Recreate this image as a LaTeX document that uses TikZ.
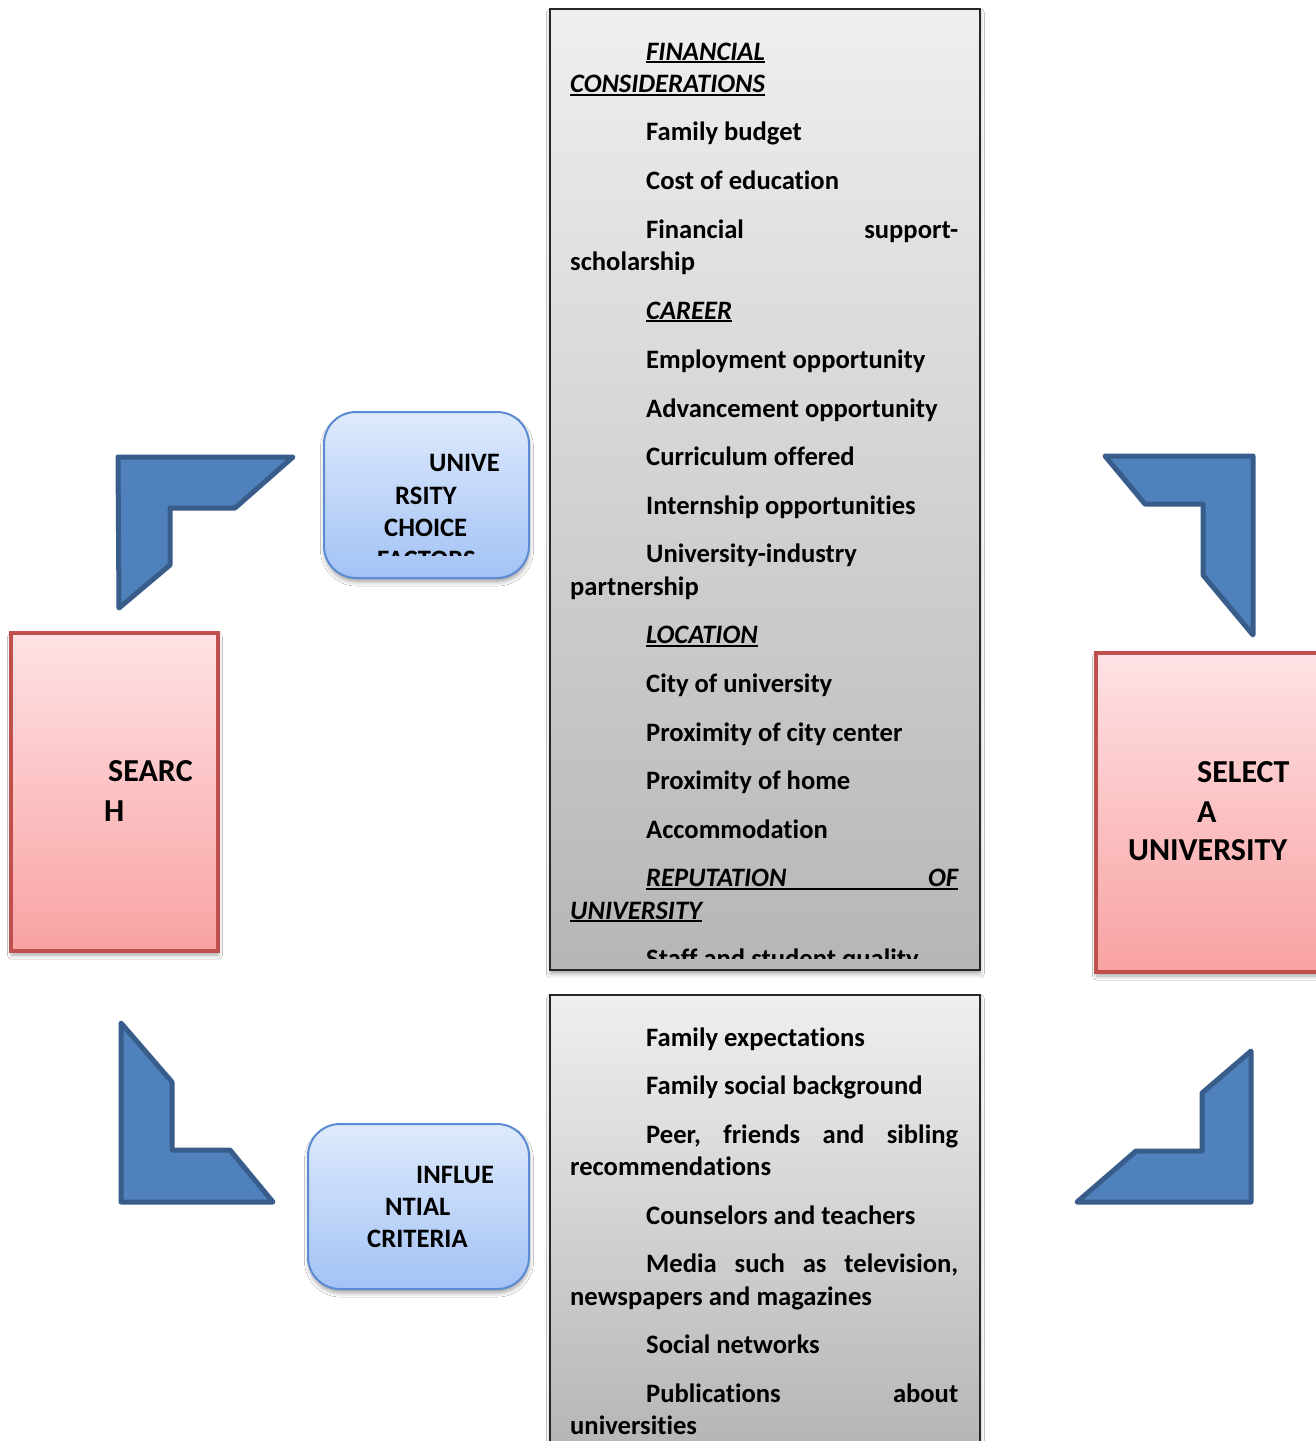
\documentclass[tikz,border=0pt]{standalone}
\usepackage{fontspec}
\setmainfont{Carlito}[Ligatures={NoCommon}]
\usetikzlibrary{shadows.blur}
\definecolor{lblue}{HTML}{4F81BD}
\definecolor{dblue}{HTML}{385D8A}
\definecolor{redb}{HTML}{C0504D}
\definecolor{redtop}{HTML}{FEE2E5}
\definecolor{redbot}{HTML}{F9A2A2}
\definecolor{bluetop}{HTML}{DEEAFC}
\definecolor{bluebot}{HTML}{A3C2F5}
\definecolor{blueb}{HTML}{5B8BD3}
\definecolor{graytop}{HTML}{EFEFEF}
\definecolor{graybot}{HTML}{B6B6B6}
\newcommand\myul[1]{\setbox0\hbox{#1}\hbox{\rlap{\rule[-3.4pt]{\wd0}{2pt}}\box0}}
\newcommand\jline[1]{\hbox to 312pt{#1}}
\tikzset{
 txt/.style={inner sep=0pt, anchor=base west, font=\bfseries\fontsize{26.6}{32}\selectfont},
 hd/.style={inner sep=0pt, anchor=base west, font=\bfseries\itshape\fontsize{26.6}{32}\selectfont},
 big/.style={inner sep=0pt, anchor=base west, font=\bfseries\fontsize{32}{40}\selectfont},
 larrow/.style={fill=lblue, draw=dblue, line width=5pt, line join=round},
 boxshadow/.style={blur shadow={shadow xshift=0.5pt, shadow yshift=-4pt, shadow blur radius=4pt, shadow opacity=35}},
 graybox/.style={draw=black!85, line width=1.6pt, top color=graytop, bottom color=graybot, anchor=north west, inner sep=0pt, boxshadow},
 redbox/.style={draw=redb, line width=4pt, top color=redtop, bottom color=redbot, anchor=north west, inner sep=0pt, boxshadow},
 bluebox/.style={draw=blueb, line width=2pt, top color=bluetop, bottom color=bluebot, anchor=north west, inner sep=0pt, rounded corners=32pt, boxshadow},
}
\begin{document}
\begin{tikzpicture}[x=1pt,y=-1pt]
\useasboundingbox (0,0) rectangle (1316,1441);
\clip (0,0) rectangle (1316,1441);
\fill[white] (0,0) rectangle (1316,1441);

% blue L-shaped arrows
\draw[larrow] (118,457) -- (293,457) -- (235,508) -- (170,508) -- (170,565) -- (119,608) -- cycle;
\draw[larrow] (1105,456) -- (1253,456) -- (1253,635) -- (1203,575) -- (1203,504) -- (1145,504) -- cycle;
\draw[larrow] (121,1023) -- (172,1082) -- (172,1150) -- (230,1150) -- (273,1202) -- (121,1202) -- cycle;
\draw[larrow] (1251,1051) -- (1251,1202) -- (1077,1202) -- (1136,1151) -- (1202,1151) -- (1202,1093) -- cycle;

% boxes
\node[graybox, minimum width=430pt, minimum height=961pt] (fbox) at (549,8) {};
\node[graybox, minimum width=430pt, minimum height=520pt, bottom color=graybot!95!black] (ibox) at (549,994) {};
\node[redbox, minimum width=207pt, minimum height=318pt] (search) at (9,631) {};
\node[redbox, minimum width=240pt, minimum height=319pt] (select) at (1094,651) {};
\node[bluebox, minimum width=205pt, minimum height=166pt] (ucf) at (323,411) {};
\node[bluebox, minimum width=221pt, minimum height=165pt] (inf) at (307,1123) {};

% big labels
\node[big] (s1) at (108,781) {SEARC};
\node[big] (s2) at (104,821) {H};
\node[big] (u1) at (1197,782) {SELECT};
\node[big] (u2) at (1197,822) {A};
\node[big] (u3) at (1128,860) {UNIVERSITY};

% university choice factors
\begin{scope}
\clip (325,413) rectangle (526,555);
\node[txt] (c1) at (429,471) {UNIVE};
\node[txt] (c2) at (395,504) {RSITY};
\node[txt] (c3) at (384,536) {CHOICE};
\node[txt] (c4) at (377,568) {FACTORS};
\end{scope}

% influential criteria
\node[txt] (n1) at (416,1183) {INFLUE};
\node[txt] (n2) at (385,1215) {NTIAL};
\node[txt] (n3) at (367,1247) {CRITERIA};

% factors list
\begin{scope}
\clip (552,11) rectangle (976,958.5);
\node[hd] (f1) at (646,60) {\myul{FINANCIAL}};
\node[hd] (f2) at (570,92.5) {\myul{CONSIDERATIONS}};
\node[txt] (f3) at (646,140) {Family budget};
\node[txt] (f4) at (646,189) {Cost of education};
\node[txt] (f5) at (646,238) {\jline{Financial\hfill support-}};
\node[txt] (f6) at (570,270.5) {scholarship};
\node[hd] (f7) at (646,319) {\myul{CAREER}};
\node[txt] (f8) at (646,368) {Employment opportunity};
\node[txt] (f9) at (646,417) {Advancement opportunity};
\node[txt] (f10) at (646,465.5) {Curriculum offered};
\node[txt] (f11) at (646,514) {Internship opportunities};
\node[txt] (f12) at (646,562.5) {University-industry};
\node[txt] (f13) at (570,595) {partnership};
\node[hd] (f14) at (646,643.5) {\myul{LOCATION}};
\node[txt] (f15) at (646,692) {City of university};
\node[txt] (f16) at (646,741) {Proximity of city center};
\node[txt] (f17) at (646,789.5) {Proximity of home};
\node[txt] (f18) at (646,838) {Accommodation};
\node[hd] (f19) at (646,886.5) {\myul{\jline{REPUTATION\hfill OF}}};
\node[hd] (f20) at (570,919) {\myul{UNIVERSITY}};
\node[txt] (f21) at (646,967) {Staff and student quality};
\end{scope}

% influences list
\node[txt] (i1) at (646,1046) {Family expectations};
\node[txt] (i2) at (646,1094.5) {Family social background};
\node[txt] (i3) at (646,1143) {\jline{Peer,\hfill friends\hfill and\hfill sibling}};
\node[txt] (i4) at (570,1175.5) {recommendations};
\node[txt] (i5) at (646,1224) {Counselors and teachers};
\node[txt] (i6) at (646,1272.5) {\jline{Media\hfill such\hfill as\hfill television,}};
\node[txt] (i7) at (570,1305) {newspapers and magazines};
\node[txt] (i8) at (646,1353.5) {Social networks};
\node[txt] (i9) at (646,1402) {\jline{Publications\hfill about}};
\node[txt] (i10) at (570,1434.5) {universities};
\end{tikzpicture}
\end{document}
